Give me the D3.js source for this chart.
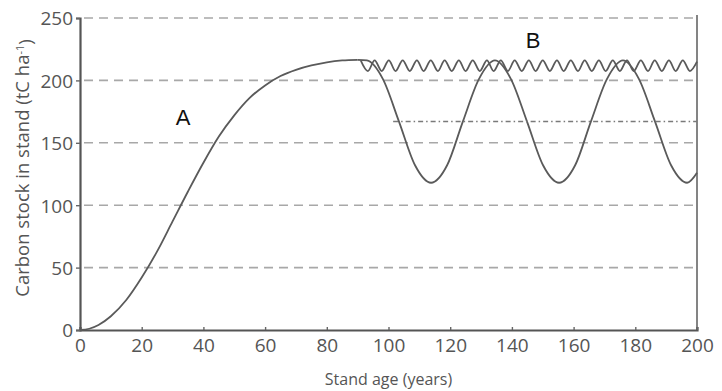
<!DOCTYPE html>
<html>
<head>
<meta charset="utf-8">
<script src="https://d3js.org/d3.v7.min.js"></script>
<style>
  html, body { margin: 0; padding: 0; background: #fff; }
  #chart { width: 722px; height: 391px; }
  text { font-family: "Open Sans", "DejaVu Sans", sans-serif; }
</style>
</head>
<body>
<div id="chart"></div>
<script>
// growth curve A (unmanaged stand)
const growthAge   = [0, 3, 6, 10, 15, 20, 25, 30, 35, 40, 45, 50, 55, 60, 65, 70, 75, 80, 85, 90];
const growthStock = [0, 1, 4, 11, 24, 42, 63, 87, 111, 134, 155, 172, 186, 196, 203.5, 208.5, 212, 214.5, 216, 216.5];

// clearfell rotation
const fellAge   = [90, 93, 98.2, 103.4, 108.6, 113.8, 119, 124.1, 129.3, 134.5, 139.7, 144.9, 150.1, 155.3, 160.5, 165.6, 170.8, 176, 181.2, 186.4, 191.6, 196.8, 200];
const fellStock = [216.5, 216, 201, 167, 132, 118, 132, 167, 201, 216, 201, 167, 132, 118, 132, 167, 201, 216, 201, 167, 132, 118, 126];

// continuous cover (small oscillation)
const thinAge = [91.0, 93.3, 95.5, 97.8, 100.1, 102.3, 104.6, 106.9, 109.2, 111.4, 113.7, 116.0, 118.2, 120.5, 122.8, 125.0,
                 127.3, 129.6, 131.9, 134.1, 136.4, 138.7, 140.9, 143.2, 145.5, 147.7, 150.0, 152.3, 154.6, 156.8, 159.1, 161.4,
                 163.6, 165.9, 168.2, 170.4, 172.7, 175.0, 177.3, 179.5, 181.8, 184.1, 186.3, 188.6, 190.9, 193.1, 195.4, 197.7, 200.0];
const thinStock = [216, 207.5, 216, 207.5, 216, 207.5, 216, 207.5, 216, 207.5, 216, 207.5, 216, 207.5, 216, 207.5,
                   216, 207.5, 216, 207.5, 216, 207.5, 216, 207.5, 216, 207.5, 216, 207.5, 216, 207.5, 216, 207.5,
                   216, 207.5, 216, 207.5, 216, 207.5, 216, 207.5, 216, 207.5, 216, 207.5, 216, 207.5, 216, 207.5, 215];

// long-term average line
const meanAge   = [101.5, 200];
const meanStock = [167, 167];

const xTicks = [0, 20, 40, 60, 80, 100, 120, 140, 160, 180, 200];
const yTicks = [0, 50, 100, 150, 200, 250];

document.addEventListener('DOMContentLoaded', function () {
    const svg = d3.select("#chart").append("svg")
        .attr("width", 722)
        .attr("height", 391);

    const x = d3.scaleLinear().domain([0, 200]).range([80, 697]);
    const y = d3.scaleLinear().domain([0, 250]).range([330, 18]);

    // dashed grid lines
    svg.append("g")
        .selectAll("line")
        .data(yTicks.filter(d => d > 0))
        .enter().append("line")
        .attr("x1", x(0) + 4)
        .attr("x2", x(200))
        .attr("y1", d => y(d))
        .attr("y2", d => y(d))
        .attr("stroke", "#a8a8a8")
        .attr("stroke-width", 1.6)
        .attr("stroke-dasharray", "9,6");

    // right border
    svg.append("line")
        .attr("x1", x(200)).attr("x2", x(200))
        .attr("y1", y(0)).attr("y2", y(250) - 3)
        .attr("stroke", "#777").attr("stroke-width", 1.8);

    // axes
    const xAxis = svg.append("g")
        .attr("transform", `translate(0,${y(0)})`)
        .call(d3.axisBottom(x).tickValues(xTicks).tickSize(-3).tickPadding(9));
    const yAxis = svg.append("g")
        .attr("transform", `translate(${x(0)},0)`)
        .call(d3.axisLeft(y).tickValues(yTicks).tickSize(4).tickPadding(3));

    [xAxis, yAxis].forEach(g => {
        g.select(".domain").attr("stroke", "#555").attr("stroke-width", 2.2);
        g.selectAll(".tick line").attr("stroke", "#666").attr("stroke-width", 1.4);
        g.selectAll(".tick text")
            .attr("fill", "#555")
            .style("font-size", "19px")
            .style("font-family", "'Open Sans', sans-serif");
    });
    yAxis.selectAll(".tick text").attr("dy", "0.36em");

    // curves
    const line = d3.line()
        .x(d => x(d[0]))
        .y(d => y(d[1]))
        .curve(d3.curveMonotoneX);

    const series = [
        { age: growthAge, stock: growthStock },
        { age: fellAge, stock: fellStock },
        { age: thinAge, stock: thinStock }
    ];
    series.forEach(s => {
        svg.append("path")
            .datum(s.age.map((a, i) => [a, s.stock[i]]))
            .attr("fill", "none")
            .attr("stroke", "#5a5a5a")
            .attr("stroke-width", 1.8)
            .attr("d", line);
    });

    svg.append("path")
        .datum(meanAge.map((a, i) => [a, meanStock[i]]))
        .attr("fill", "none")
        .attr("stroke", "#7a7a7a")
        .attr("stroke-width", 1.5)
        .attr("stroke-dasharray", "5,3,1.5,3")
        .attr("d", line);

    // labels A / B
    svg.append("text")
        .attr("x", 183).attr("y", 125)
        .attr("text-anchor", "middle")
        .style("font-family", "'Liberation Sans', Arial, sans-serif")
        .style("font-size", "22px")
        .attr("fill", "#111")
        .text("A");
    svg.append("text")
        .attr("x", 533).attr("y", 48)
        .attr("text-anchor", "middle")
        .style("font-family", "'Liberation Sans', Arial, sans-serif")
        .style("font-size", "22px")
        .attr("fill", "#111")
        .text("B");

    // axis titles
    svg.append("text")
        .attr("x", (x(0) + x(200)) / 2)
        .attr("y", 385)
        .attr("text-anchor", "middle")
        .attr("fill", "#555")
        .style("font-size", "16px")
        .text("Stand age (years)");

    const yTitle = svg.append("text")
        .attr("transform", "translate(29,168) rotate(-90)")
        .attr("text-anchor", "middle")
        .attr("fill", "#555")
        .style("font-size", "18.5px");
    yTitle.append("tspan").text("Carbon stock in stand (tC ha");
    yTitle.append("tspan").attr("dy", "-0.45em").style("font-size", "11px").text("-1");
    yTitle.append("tspan").attr("dy", "0.45em").text(")");
});
</script>
</body>
</html>
